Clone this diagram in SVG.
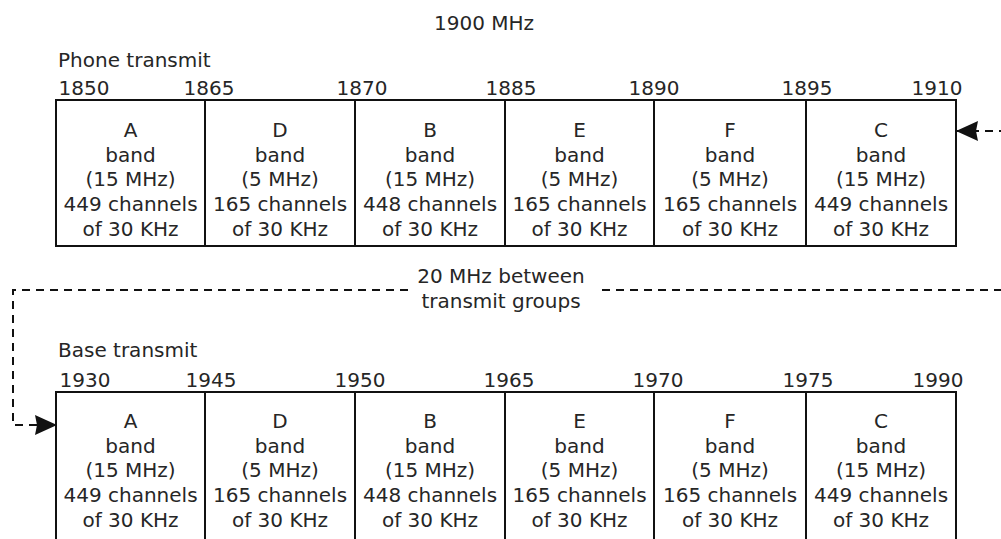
<svg xmlns="http://www.w3.org/2000/svg" width="1001" height="539" viewBox="0 0 1001 539">
<style>
text{font-family:"DejaVu Sans","Liberation Sans",sans-serif;font-size:20px;fill:#262626}
.c{text-anchor:middle}
.box{fill:#fff;stroke:#111;stroke-width:2}
.conn{fill:none;stroke:#111;stroke-width:2;stroke-dasharray:8 6}
</style>
<defs>
<marker id="ah" viewBox="0 0 22 20" refX="21" refY="10" markerWidth="22" markerHeight="20" markerUnits="userSpaceOnUse" orient="auto-start-reverse">
<path d="M0,0 L22,10 L0,20 L2,10 Z" fill="#111"/>
</marker>
</defs>
<rect width="1001" height="539" fill="#fff"/>
<text class="c" x="484" y="30">1900 MHz</text>
<g id="labels-top">
<text x="58" y="67">Phone transmit</text>
<text class="c" y="95"><tspan x="84">1850</tspan><tspan x="209">1865</tspan><tspan x="362">1870</tspan><tspan x="511">1885</tspan><tspan x="654">1890</tspan><tspan x="807">1895</tspan><tspan x="937">1910</tspan></text>
</g>
<g id="labels-bottom">
<text x="58" y="357">Base transmit</text>
<text class="c" y="387"><tspan x="85">1930</tspan><tspan x="211">1945</tspan><tspan x="360">1950</tspan><tspan x="509">1965</tspan><tspan x="658">1970</tspan><tspan x="808">1975</tspan><tspan x="938">1990</tspan></text>
</g>
<g id="gap-label">
<text class="c" x="501" y="283">20 MHz between</text>
<text class="c" x="501" y="308">transmit groups</text>
</g>
<g id="phone-A"><rect class="box" x="56" y="100" width="149" height="146"/><text class="c"><tspan x="130.5" y="137">A</tspan><tspan x="130.5" y="162">band</tspan><tspan x="130.5" y="186">(15 MHz)</tspan><tspan x="130.5" y="211">449 channels</tspan><tspan x="130.5" y="236">of 30 KHz</tspan></text></g>
<g id="phone-D"><rect class="box" x="205" y="100" width="150" height="146"/><text class="c"><tspan x="280" y="137">D</tspan><tspan x="280" y="162">band</tspan><tspan x="280" y="186">(5 MHz)</tspan><tspan x="280" y="211">165 channels</tspan><tspan x="280" y="236">of 30 KHz</tspan></text></g>
<g id="phone-B"><rect class="box" x="355" y="100" width="150" height="146"/><text class="c"><tspan x="430" y="137">B</tspan><tspan x="430" y="162">band</tspan><tspan x="430" y="186">(15 MHz)</tspan><tspan x="430" y="211">448 channels</tspan><tspan x="430" y="236">of 30 KHz</tspan></text></g>
<g id="phone-E"><rect class="box" x="505" y="100" width="149" height="146"/><text class="c"><tspan x="579.5" y="137">E</tspan><tspan x="579.5" y="162">band</tspan><tspan x="579.5" y="186">(5 MHz)</tspan><tspan x="579.5" y="211">165 channels</tspan><tspan x="579.5" y="236">of 30 KHz</tspan></text></g>
<g id="phone-F"><rect class="box" x="654" y="100" width="152" height="146"/><text class="c"><tspan x="730" y="137">F</tspan><tspan x="730" y="162">band</tspan><tspan x="730" y="186">(5 MHz)</tspan><tspan x="730" y="211">165 channels</tspan><tspan x="730" y="236">of 30 KHz</tspan></text></g>
<g id="phone-C"><rect class="box" x="806" y="100" width="150" height="146"/><text class="c"><tspan x="881" y="137">C</tspan><tspan x="881" y="162">band</tspan><tspan x="881" y="186">(15 MHz)</tspan><tspan x="881" y="211">449 channels</tspan><tspan x="881" y="236">of 30 KHz</tspan></text></g>
<g id="base-A"><rect class="box" x="56" y="392" width="149" height="170"/><text class="c"><tspan x="130.5" y="428">A</tspan><tspan x="130.5" y="453">band</tspan><tspan x="130.5" y="477">(15 MHz)</tspan><tspan x="130.5" y="502">449 channels</tspan><tspan x="130.5" y="527">of 30 KHz</tspan></text></g>
<g id="base-D"><rect class="box" x="205" y="392" width="150" height="170"/><text class="c"><tspan x="280" y="428">D</tspan><tspan x="280" y="453">band</tspan><tspan x="280" y="477">(5 MHz)</tspan><tspan x="280" y="502">165 channels</tspan><tspan x="280" y="527">of 30 KHz</tspan></text></g>
<g id="base-B"><rect class="box" x="355" y="392" width="150" height="170"/><text class="c"><tspan x="430" y="428">B</tspan><tspan x="430" y="453">band</tspan><tspan x="430" y="477">(15 MHz)</tspan><tspan x="430" y="502">448 channels</tspan><tspan x="430" y="527">of 30 KHz</tspan></text></g>
<g id="base-E"><rect class="box" x="505" y="392" width="149" height="170"/><text class="c"><tspan x="579.5" y="428">E</tspan><tspan x="579.5" y="453">band</tspan><tspan x="579.5" y="477">(5 MHz)</tspan><tspan x="579.5" y="502">165 channels</tspan><tspan x="579.5" y="527">of 30 KHz</tspan></text></g>
<g id="base-F"><rect class="box" x="654" y="392" width="152" height="170"/><text class="c"><tspan x="730" y="428">F</tspan><tspan x="730" y="453">band</tspan><tspan x="730" y="477">(5 MHz)</tspan><tspan x="730" y="502">165 channels</tspan><tspan x="730" y="527">of 30 KHz</tspan></text></g>
<g id="base-C"><rect class="box" x="806" y="392" width="150" height="170"/><text class="c"><tspan x="881" y="428">C</tspan><tspan x="881" y="453">band</tspan><tspan x="881" y="477">(15 MHz)</tspan><tspan x="881" y="502">449 channels</tspan><tspan x="881" y="527">of 30 KHz</tspan></text></g>
<g id="connectors">
<path class="conn" d="M957,131 H1012 V290 H597 M408,290 H13 V425 H56" marker-start="url(#ah)" marker-end="url(#ah)"/>
</g>
</svg>
